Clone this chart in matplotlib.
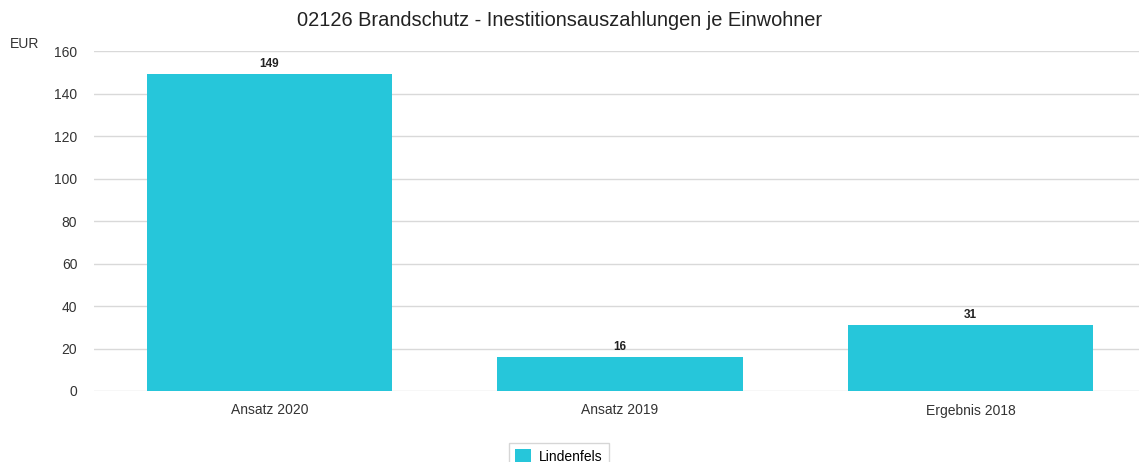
import matplotlib
matplotlib.use("Agg")
import matplotlib.pyplot as plt
from matplotlib.patches import Patch

categories = ["Ansatz 2020", "Ansatz 2019", "Ergebnis 2018"]
values = [149, 16, 31]
series_name = "Lindenfels"
title = "02126 Brandschutz - Inestitionsauszahlungen je Einwohner"
yticks = [0, 20, 40, 60, 80, 100, 120, 140, 160]

W, H = 1139, 462
fig = plt.figure(figsize=(W / 100, H / 100), dpi=100)
plt.rcParams['font.family'] = ['Liberation Sans', 'DejaVu Sans']
ax = fig.add_axes([94 / W, 1 - 391 / H, (1146 - 94) / W, (391 - 51) / H])

color = "#26C6DA"
x = list(range(len(categories)))
bars = ax.bar(x, values, width=0.70, color=color, zorder=3)
for xi, v in zip(x, values):
    ax.annotate(str(v), (xi, v), xytext=(0, 3), textcoords="offset points",
                ha="center", va="bottom", fontsize=8.5, fontweight="bold", color="#222222")

ax.set_xlim(-0.5, len(categories) - 0.5)
ax.set_ylim(0, 160)
ax.set_yticks(yticks)
ax.set_xticks(x)
ax.set_xticklabels(categories)
ax.tick_params(axis="both", length=0, labelsize=10, colors="#333333")
ax.tick_params(axis="y", pad=12)
ax.tick_params(axis="x", pad=9)
ax.grid(axis="y", color="#d9d9d9", linewidth=1, zorder=0)
for s in ax.spines.values():
    s.set_visible(False)

fig.text(560 / W, 1 - 20 / H, title, ha="center", va="center", fontsize=14.4, color="#222222")
fig.text(10 / W, 1 - 44 / H, "EUR", ha="left", va="center", fontsize=10, color="#333333")

leg = fig.legend(handles=[Patch(facecolor=color, label=series_name)],
                 loc="upper center", bbox_to_anchor=(559 / W, 1 - 436 / H),
                 fontsize=10, frameon=True, fancybox=False, edgecolor="#cccccc",
                 handlelength=1.1, handleheight=1.1, borderpad=0.45, handletextpad=0.6)
leg.get_frame().set_linewidth(1)

fig.savefig("out.png", dpi=100)
